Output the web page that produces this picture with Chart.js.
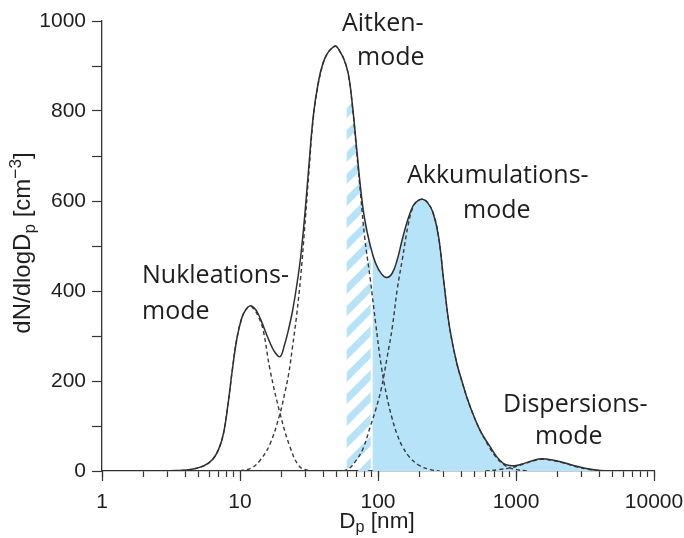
<!DOCTYPE html>
<html>
<head>
<meta charset="utf-8">
<script src="https://cdn.jsdelivr.net/npm/chart.js@4.4.1/dist/chart.umd.min.js"></script>
<style>
  html, body { margin: 0; padding: 0; background: #fff; }
  #wrap { width: 684px; height: 538px; }
</style>
</head>
<body>
<div id="wrap"><canvas id="chart" width="684" height="538"></canvas></div>
<script>
// Partikelgrößenverteilung: Summenkurve + vier Moden (dN/dlogDp über Dp in nm)
const totalD = [1, 2.5, 3.5, 4.5, 5.5, 6.3, 7, 7.6, 8.2, 8.8, 9.5, 10.3, 11, 11.8, 12.6, 13.5, 14.5, 15.5, 16.5, 17.8, 19.5, 21, 22.5, 24, 25.7, 27.5, 29.5, 31.5, 34, 37, 40, 43, 46.5, 49.6, 53, 57, 61, 65, 70, 75, 80, 88, 96, 106, 116, 127, 138, 150, 165, 180, 195, 211, 228, 250, 275, 300, 330, 372, 410, 439, 490, 548, 600, 649, 720, 809, 906, 1000, 1150, 1350, 1535, 1800, 2200, 2700, 3300, 4060, 5000, 10000];
const totalN = [0, 0, 1, 4, 12, 25, 48, 84, 150, 225, 295, 340, 358, 367, 363, 350, 328, 305, 285, 265, 254, 280, 315, 355, 410, 475, 570, 675, 790, 865, 907, 928, 940, 944, 932, 913, 882, 818, 718, 625, 560, 500, 462, 438, 430, 440, 470, 515, 560, 590, 601, 604, 597, 575, 520, 420, 320, 240, 195, 165, 125, 91, 70, 54, 33, 17, 12, 12, 17, 24, 27, 25, 19, 11, 5, 1, 0, 0];

const nuclD = [3.3, 4.5, 5.5, 6.3, 7, 7.6, 8.2, 8.8, 9.5, 10.3, 11, 11.8, 12.6, 13.5, 14.7, 16.5, 19.5, 23, 27, 32];
const nuclN = [0, 4, 12, 25, 48, 84, 150, 225, 295, 340, 358, 366, 360, 345, 314, 225, 128, 54, 10, 0];

const aitkenD = [10, 12, 14, 16.5, 19.5, 21, 22.5, 24, 25.7, 27.5, 29.5, 31.5, 34, 37, 40, 43, 46.5, 49.6, 53, 57, 61, 65, 70, 75, 80, 88, 96, 106, 116, 127, 138, 150, 170, 200, 240, 280];
const aitkenN = [0, 6, 24, 60, 128, 170, 215, 275, 345, 430, 545, 660, 785, 862, 905, 928, 940, 944, 932, 913, 880, 815, 710, 610, 520, 425, 330, 230, 165, 115, 80, 55, 30, 12, 3, 0];

const accumD = [56, 62, 70, 78, 88, 96, 106, 116, 127, 138, 150, 165, 180, 195, 211, 228, 250, 275, 300, 330, 372, 410, 439, 490, 548, 600, 649, 720, 809, 906, 1000, 1200];
const accumN = [0, 6, 25, 50, 99, 135, 185, 250, 320, 405, 470, 545, 588, 601, 604, 597, 575, 520, 420, 320, 240, 195, 165, 125, 91, 68, 50, 30, 15, 7, 3, 0];

const dispD = [600, 750, 906, 1000, 1150, 1350, 1535, 1800, 2200, 2700, 3300, 4060, 5000];
const dispN = [0, 3, 7, 10, 16, 23, 26, 24, 18, 10, 4, 1, 0];

// schraffierter Bereich und gefüllter Bereich (Dp in nm)
const hatchFrom = 59.3;
const hatchTo = 90;
const hatchTopN = 830;

const decades = [1, 10, 100, 1000, 10000];
const minorSteps = [2, 3, 4, 5, 6, 7, 8, 9];
const yTickStep = 100;

const modeLabels = [
    { lines: ["Aitken-", "mode"], x: [342, 357], y: [31, 65] },
    { lines: ["Nukleations-", "mode"], x: [142, 142], y: [283, 319] },
    { lines: ["Akkumulations-", "mode"], x: [407, 463], y: [183, 218] },
    { lines: ["Dispersions-", "mode"], x: [503, 535], y: [412, 444] }
];

const xTicks = [];
decades.forEach(d => {
    xTicks.push(d);
    if (d < 10000) minorSteps.forEach(m => xTicks.push(d * m));
});

const pts = (xs, ys) => xs.map((x, i) => ({ x: x, y: ys[i] }));

const AXIS = "#333";
const TEXT = "#1e1e1e";
const BLUE = "#b7e3f8";

function areaPath(ctx, line, bottom) {
    const p = line.points;
    ctx.beginPath();
    line.path(ctx);
    ctx.lineTo(p[p.length - 1].x, bottom);
    ctx.lineTo(p[0].x, bottom);
    ctx.closePath();
}

const fillPlugin = {
    id: "modeFill",
    beforeDatasetsDraw(chart) {
        const ctx = chart.ctx;
        const area = chart.chartArea;
        const xs = chart.scales.x;
        const ys = chart.scales.y;
        const line = chart.getDatasetMeta(0).dataset;
        line.updateControlPoints(area, "x");

        const xh0 = xs.getPixelForValue(hatchFrom);
        const xh1 = xs.getPixelForValue(hatchTo);

        // gefüllte Fläche rechts
        ctx.save();
        ctx.beginPath();
        ctx.rect(xh1 + 1, area.top, area.right - xh1, area.bottom - area.top);
        ctx.clip();
        areaPath(ctx, line, area.bottom);
        ctx.fillStyle = BLUE;
        ctx.fill();
        ctx.restore();

        // Schraffur
        ctx.save();
        const yTop = ys.getPixelForValue(hatchTopN);
        ctx.beginPath();
        ctx.rect(xh0, yTop, xh1 - 1 - xh0, area.bottom - yTop);
        ctx.clip();
        areaPath(ctx, line, area.bottom);
        ctx.clip();
        ctx.strokeStyle = BLUE;
        ctx.lineWidth = 7;
        const w = xh1 - xh0;
        for (let y = area.top - 40; y < area.bottom + w + 40; y += 22) {
            ctx.beginPath();
            ctx.moveTo(xh0 - 5, y + 5);
            ctx.lineTo(xh1 + 5, y - w - 5);
            ctx.stroke();
        }
        ctx.restore();
    }
};

function drawRich(ctx, parts, x, y, base, family) {
    let w = 0;
    parts.forEach(p => {
        ctx.font = (base * (p.s || 1)) + "px " + family;
        w += ctx.measureText(p.t).width;
    });
    let cx = x - w / 2;
    parts.forEach(p => {
        ctx.font = (base * (p.s || 1)) + "px " + family;
        ctx.fillText(p.t, cx, y + (p.dy || 0));
        cx += ctx.measureText(p.t).width;
    });
}

const textPlugin = {
    id: "texts",
    afterDraw(chart) {
        const ctx = chart.ctx;
        const xs = chart.scales.x;
        const area = chart.chartArea;

        // längere Striche an den Dekaden
        ctx.save();
        ctx.strokeStyle = AXIS;
        ctx.lineWidth = 1.2;
        decades.forEach(d => {
            const x = Math.round(xs.getPixelForValue(d)) + 0.5;
            ctx.beginPath();
            ctx.moveTo(x, area.bottom);
            ctx.lineTo(x, area.bottom + 10);
            ctx.stroke();
        });
        ctx.restore();

        ctx.save();
        ctx.fillStyle = TEXT;
        ctx.textBaseline = "alphabetic";
        ctx.textAlign = "left";
        ctx.font = "25px 'Open Sans'";
        modeLabels.forEach(l => {
            l.lines.forEach((t, i) => ctx.fillText(t, l.x[i], l.y[i]));
        });

        // Achsentitel
        const fam = "'Liberation Sans'";
        drawRich(ctx, [
            { t: "D" },
            { t: "p", s: 0.72, dy: 4 },
            { t: " [nm]" }
        ], 377, 528, 22.5, fam);

        ctx.translate(30, 243);
        ctx.rotate(-Math.PI / 2);
        drawRich(ctx, [
            { t: "dN/dlogD" },
            { t: "p", s: 0.72, dy: 5 },
            { t: " [cm" },
            { t: "\u22123", s: 0.72, dy: -9 },
            { t: "]" }
        ], 0, 0, 24, fam);
        ctx.restore();
    }
};

const solid = { borderColor: "#2f2f2f", borderWidth: 1.5, pointRadius: 0, fill: false, tension: 0.4 };
const dashed = { borderColor: "#3a3a3a", borderWidth: 1.4, borderDash: [4, 3], pointRadius: 0, fill: false, tension: 0.4 };

new Chart(document.getElementById("chart"), {
    type: "line",
    data: {
        datasets: [
            Object.assign({ label: "Summe", data: pts(totalD, totalN) }, solid),
            Object.assign({ label: "Nukleationsmode", data: pts(nuclD, nuclN) }, dashed),
            Object.assign({ label: "Aitkenmode", data: pts(aitkenD, aitkenN) }, dashed),
            Object.assign({ label: "Akkumulationsmode", data: pts(accumD, accumN) }, dashed),
            Object.assign({ label: "Dispersionsmode", data: pts(dispD, dispN) }, dashed)
        ]
    },
    options: {
        responsive: false,
        animation: false,
        layout: { padding: { top: 21, right: 30, left: 0, bottom: 0 } },
        plugins: { legend: { display: false }, tooltip: { enabled: false } },
        scales: {
            x: {
                type: "logarithmic",
                min: 1,
                max: 10000,
                afterBuildTicks: s => { s.ticks = xTicks.map(v => ({ value: v })); },
                afterFit: s => { s.height = 67; s.paddingLeft = 0; s.paddingRight = 0; },
                grid: { drawOnChartArea: false, drawTicks: true, tickLength: 6, color: AXIS, tickWidth: 1.2 },
                border: { display: true, color: AXIS, width: 1.3 },
                ticks: {
                    autoSkip: false, maxRotation: 0, minRotation: 0, padding: 13,
                    color: TEXT, font: { family: "'Liberation Sans'", size: 21 },
                    callback: v => decades.includes(v) ? String(v) : ""
                }
            },
            y: {
                min: 0,
                max: 1000,
                afterFit: s => { s.width = 102; },
                grid: { drawOnChartArea: false, drawTicks: true, tickLength: 10, color: AXIS, tickWidth: 1.2 },
                border: { display: true, color: AXIS, width: 1.3 },
                ticks: {
                    stepSize: yTickStep, autoSkip: false, padding: 6,
                    color: TEXT, font: { family: "'Liberation Sans'", size: 21 },
                    callback: v => v % 200 === 0 ? String(v) : ""
                }
            }
        }
    },
    plugins: [fillPlugin, textPlugin]
});
</script>
</body>
</html>
